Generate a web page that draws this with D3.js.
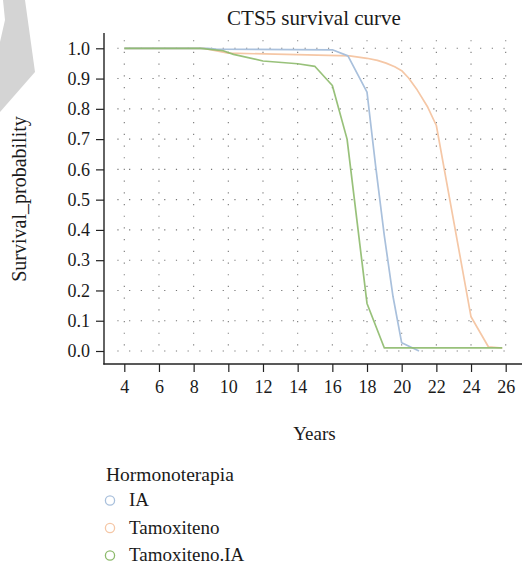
<!DOCTYPE html>
<html>
<head>
<meta charset="utf-8">
<script src="https://cdn.jsdelivr.net/npm/d3@7/dist/d3.min.js"></script>
<style>
  html, body { margin: 0; padding: 0; background: #fff; }
  svg { display: block; }
  text { font-family: "Liberation Serif", "Times New Roman", serif; fill: #1a1a1a; }
</style>
</head>
<body>
<svg id="chart" width="522" height="566"></svg>
<script>
// ---- data ----
const title = "CTS5 survival curve";
const xLabel = "Years";
const yLabel = "Survival_probability";
const legendTitle = "Hormonoterapia";
const seriesNames = ["IA", "Tamoxiteno", "Tamoxiteno.IA"];
const seriesColors = ["#a9c0dc", "#f5c7a6", "#8dba6c"];

const xTicks = [4, 6, 8, 10, 12, 14, 16, 18, 20, 22, 24, 26];
const yTicks = [0, 0.1, 0.2, 0.3, 0.4, 0.5, 0.6, 0.7, 0.8, 0.9, 1.0];

const iaYears = [4, 8.8, 9.3, 16, 16.9, 18, 18.5, 19, 19.5, 20, 21];
const iaProb  = [1, 1, 0.997, 0.995, 0.975, 0.855, 0.61, 0.38, 0.18, 0.027, 0.0];

const tamYears = [4, 8.6, 10, 17, 18, 18.6, 19.1, 19.6, 20, 20.4, 20.9, 21.5, 22, 24, 25, 25.8];
const tamProb  = [1, 1, 0.984, 0.975, 0.967, 0.96, 0.951, 0.939, 0.926, 0.902, 0.862, 0.806, 0.745, 0.113, 0.014, 0.01];

const tiaYears = [4, 8.4, 9.7, 10.3, 12, 14, 15, 16, 16.85, 18, 19, 25.8];
const tiaProb  = [1, 1, 0.992, 0.98, 0.958, 0.949, 0.94, 0.877, 0.70, 0.157, 0.01, 0.01];

const seriesData = [
  d3.zip(iaYears, iaProb),
  d3.zip(tamYears, tamProb),
  d3.zip(tiaYears, tiaProb)
];

// ---- drawing ----
const svg = d3.select("#chart");

// watermark shape
svg.append("path")
  .attr("d", "M3,0 L25,0 L35,72 L0,112 L0,42 L5,20 Z")
  .attr("fill", "#d4d4d4");

const x = d3.scaleLinear().domain([4, 26]).range([124.3, 505.7]);
const y = d3.scaleLinear().domain([0, 1]).range([351, 48.3]);

// grid
const grid = svg.append("g");
grid.selectAll("line.h").data(yTicks).join("line")
  .attr("x1", x(3.6)).attr("x2", x(26.5))
  .attr("y1", d => y(d)).attr("y2", d => y(d))
  .attr("stroke", "#777").attr("stroke-width", 1.1)
  .attr("stroke-dasharray", "1.2,10.5");
grid.selectAll("line.v").data(xTicks).join("line")
  .attr("x1", d => x(d)).attr("x2", d => x(d))
  .attr("y1", y(1.027)).attr("y2", y(-0.016))
  .attr("stroke", "#777").attr("stroke-width", 1.1)
  .attr("stroke-dasharray", "1.2,10.5");

// lines
const line = d3.line().x(d => x(d[0])).y(d => y(d[1]));
const order = [1, 0, 2];
order.forEach(i => {
  svg.append("path")
    .datum(seriesData[i])
    .attr("d", line)
    .attr("fill", "none")
    .attr("stroke", seriesColors[i])
    .attr("stroke-width", 1.7)
    .attr("stroke-opacity", i === 2 ? 0.9 : 1)
    .attr("stroke-linejoin", "round");
});

// axes
const yAxis = d3.axisLeft(y).tickValues(yTicks).tickFormat(d3.format(".1f")).tickSize(8).tickSizeOuter(0);
const gy = svg.append("g").attr("transform", "translate(104,0)").call(yAxis);
gy.select(".domain").remove();
gy.append("line").attr("x1", 0).attr("x2", 0).attr("y1", 33).attr("y2", 364.5)
  .attr("stroke", "#222").attr("stroke-width", 1.4);
gy.selectAll(".tick line").attr("stroke", "#222").attr("stroke-width", 1.2);
gy.selectAll(".tick text").attr("font-size", 18).attr("x", -14)
  .attr("font-family", "Liberation Serif").attr("fill", "#1a1a1a");

const xAxis = d3.axisBottom(x).tickValues(xTicks).tickSize(8).tickSizeOuter(0);
const gx = svg.append("g").attr("transform", "translate(0,364)").call(xAxis);
gx.select(".domain").remove();
gx.append("line").attr("x1", 103.3).attr("x2", 522).attr("y1", 0).attr("y2", 0)
  .attr("stroke", "#222").attr("stroke-width", 1.4);
gx.selectAll(".tick line").attr("stroke", "#222").attr("stroke-width", 1.2);
gx.selectAll(".tick text").attr("font-size", 18).attr("y", 16)
  .attr("font-family", "Liberation Serif").attr("fill", "#1a1a1a");

// titles
svg.append("text").attr("x", 314).attr("y", 25).attr("text-anchor", "middle")
  .attr("font-size", 21).text(title);
svg.append("text").attr("x", 314.5).attr("y", 440).attr("text-anchor", "middle")
  .attr("font-size", 19).text(xLabel);
svg.append("text").attr("transform", "translate(25.5,199) rotate(-90)")
  .attr("text-anchor", "middle").attr("font-size", 20).text(yLabel);

// legend
const lg = svg.append("g");
lg.append("text").attr("x", 106).attr("y", 480.5).attr("font-size", 19.5).text(legendTitle);
seriesNames.forEach((name, i) => {
  const cy = 500.5 + i * 27.5;
  lg.append("circle").attr("cx", 110).attr("cy", cy).attr("r", 4.6)
    .attr("fill", "none").attr("stroke", seriesColors[i]).attr("stroke-width", 1.3);
  lg.append("text").attr("x", 129).attr("y", cy + 5.5).attr("font-size", 19).text(name);
});
</script>
</body>
</html>
